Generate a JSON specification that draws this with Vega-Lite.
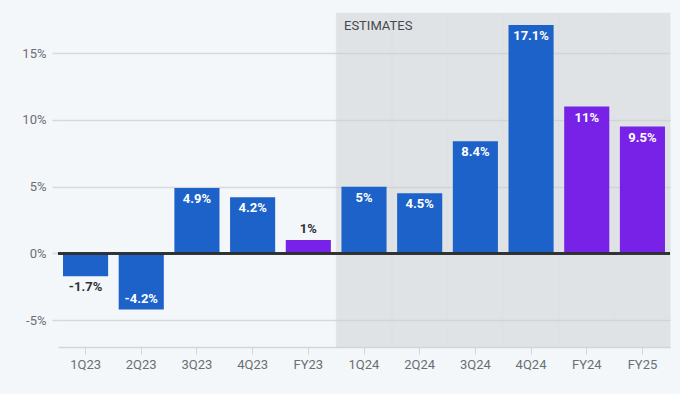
{
  "$schema": "https://vega.github.io/schema/vega-lite/v6.json",
  "width": 612,
  "height": 334,
  "autosize": {"type": "none"},
  "padding": {"left": 58, "top": 13, "right": 10, "bottom": 47},
  "background": "#f4f7fa",
  "config": {
    "view": {"stroke": null},
    "font": "Liberation Sans Narrow, Roboto, sans-serif"
  },
  "data": {
    "values": [
      {"q": "1Q23", "value": -1.7, "kind": "Quarter", "estimate": false},
      {"q": "2Q23", "value": -4.2, "kind": "Quarter", "estimate": false},
      {"q": "3Q23", "value": 4.9, "kind": "Quarter", "estimate": false},
      {"q": "4Q23", "value": 4.2, "kind": "Quarter", "estimate": false},
      {"q": "FY23", "value": 1, "kind": "Year", "estimate": false},
      {"q": "1Q24", "value": 5, "kind": "Quarter", "estimate": true},
      {"q": "2Q24", "value": 4.5, "kind": "Quarter", "estimate": true},
      {"q": "3Q24", "value": 8.4, "kind": "Quarter", "estimate": true},
      {"q": "4Q24", "value": 17.1, "kind": "Quarter", "estimate": true},
      {"q": "FY24", "value": 11, "kind": "Year", "estimate": true},
      {"q": "FY25", "value": 9.5, "kind": "Year", "estimate": true}
    ]
  },
  "encoding": {
    "x": {
      "field": "q",
      "type": "nominal",
      "sort": ["1Q23", "2Q23", "3Q23", "4Q23", "FY23", "1Q24", "2Q24", "3Q24", "4Q24", "FY24", "FY25"],
      "title": null,
      "scale": {"paddingInner": 0.19, "paddingOuter": 0.09},
      "axis": {
        "labelAngle": 0,
        "labelColor": "#6b6e72",
        "labelFontSize": 13,
        "labelPadding": 4,
        "domainColor": "#d3d6d9",
        "tickColor": "#d3d6d9",
        "tickSize": 7,
        "domainWidth": 1.5
      }
    }
  },
  "layer": [
    {
      "transform": [{"filter": "datum.estimate"}],
      "mark": {"type": "bar", "width": {"band": 1.2346}, "color": "#ced1d4", "opacity": 0.5, "stroke": "#ced1d4", "strokeWidth": 0.6, "strokeOpacity": 0.5},
      "encoding": {
        "y": {
          "datum": 18,
          "type": "quantitative",
          "scale": {"domain": [-7, 18], "nice": false, "zero": false},
          "title": null,
          "axis": {
            "values": [-5, 0, 5, 10, 15],
            "labelExpr": "datum.value + '%'",
            "grid": true,
            "gridColor": "#d6d9dc",
            "gridWidth": 1.5,
            "tickColor": "#d6d9dc",
            "tickSize": 6,
            "tickWidth": 1.5,
            "domain": false,
            "labelColor": "#6b6e72",
            "labelFontSize": 13,
            "labelPadding": 6
          }
        },
        "y2": {"datum": -7}
      }
    },
    {
      "transform": [{"filter": "datum.q === '1Q24'"}],
      "mark": {"type": "text", "align": "left", "baseline": "middle", "dx": -20, "fontSize": 13, "color": "#45484c"},
      "encoding": {
        "y": {"datum": 17},
        "text": {"value": "ESTIMATES"}
      }
    },
    {
      "mark": {"type": "bar"},
      "encoding": {
        "y": {"field": "value", "type": "quantitative", "title": null},
        "color": {
          "field": "kind",
          "type": "nominal",
          "scale": {"domain": ["Quarter", "Year"], "range": ["#1c62c8", "#7722e6"]},
          "legend": null
        }
      }
    },
    {
      "mark": {"type": "rule", "color": "#2e3033", "strokeWidth": 1.5},
      "encoding": {"y": {"datum": 0}, "x": {"value": 0}, "x2": {"value": 612}}
    },
    {
      "transform": [{"calculate": "datum.value + '%'", "as": "label"}],
      "mark": {
        "type": "text",
        "fontWeight": "bold",
        "fontSize": 13,
        "baseline": "middle",
        "dy": {"expr": "datum.value >= 0 ? (abs(datum.value) > 3 ? 11 : -11) : (abs(datum.value) > 3 ? -11 : 11)"}
      },
      "encoding": {
        "y": {"field": "value", "type": "quantitative", "title": null},
        "text": {"field": "label"},
        "color": {
          "condition": {"test": "abs(datum.value) > 3", "value": "#ffffff"},
          "value": "#2e3033"
        }
      }
    }
  ]
}
